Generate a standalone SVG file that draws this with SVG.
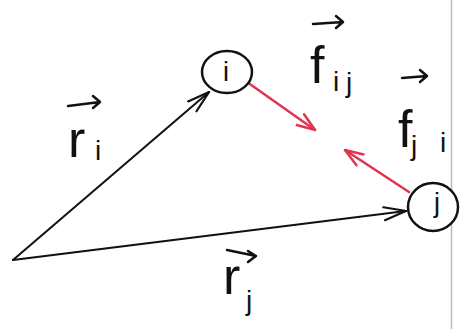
<svg xmlns="http://www.w3.org/2000/svg" width="467" height="329" viewBox="0 0 467 329">
  <style>
    .edge { fill: none; stroke: #111; stroke-width: 2; stroke-linecap: round; }
    .force { fill: none; stroke: #e2334f; stroke-width: 2.5; stroke-linecap: round; }
    .node { fill: #fff; stroke: #111; stroke-width: 2.5; }
    .lbl { font-family: "Liberation Sans", Arial, sans-serif; fill: #111; }
    .big { font-size: 52px; }
    .sub { font-size: 28px; }
    .nlbl { font-family: "Liberation Sans", Arial, sans-serif; font-size: 27px; fill: #111; text-anchor: middle; }
    .vec { fill: none; stroke: #111; stroke-width: 2.5; stroke-linecap: round; stroke-linejoin: round; }
  </style>
  <defs>
    <marker id="headBlack" viewBox="0 0 24 16" refX="23" refY="8" markerWidth="24" markerHeight="16" markerUnits="userSpaceOnUse" orient="auto">
      <path d="M1,1.5 L23,8 L1,14.5" fill="none" stroke="#111" stroke-width="2.2" stroke-linecap="round"/>
    </marker>
    <marker id="headRed" viewBox="0 0 20 16" refX="19" refY="8" markerWidth="20" markerHeight="16" markerUnits="userSpaceOnUse" orient="auto">
      <path d="M1,1.5 L19,8 L1,14.5" fill="none" stroke="#e2334f" stroke-width="2.5" stroke-linecap="round"/>
    </marker>
  </defs>
  <rect width="467" height="329" fill="#fff"/>
  <line x1="451.5" y1="0" x2="451.5" y2="329" stroke="#bdbdbd" stroke-width="1.5"/>

  <g id="connectors">
    <path class="edge" d="M13,260 L209,92" marker-end="url(#headBlack)"/>
    <path class="edge" d="M13,260 L406,211" marker-end="url(#headBlack)"/>
    <path class="force" d="M247,82 L315,130" marker-end="url(#headRed)"/>
    <path class="force" d="M409,192 L345,150" marker-end="url(#headRed)"/>
  </g>

  <g id="node-i">
    <ellipse class="node" cx="227" cy="72" rx="25" ry="21"/>
    <text class="nlbl" x="226" y="81">i</text>
  </g>
  <g id="node-j">
    <ellipse class="node" cx="433" cy="207" rx="25" ry="24"/>
    <text class="nlbl" x="437" y="212">j</text>
  </g>

  <g id="label-ri">
    <path class="vec" d="M68,106 L100,102 M93,96 L100,102 L93,108"/>
    <text class="lbl big" x="68" y="157">r</text>
    <text class="lbl sub" x="95" y="160">i</text>
  </g>
  <g id="label-rj">
    <path class="vec" d="M227,250 L256,256 M248,251 L256,256 L248,262"/>
    <text class="lbl big" x="223" y="294">r</text>
    <text class="lbl sub" x="246" y="310">j</text>
  </g>
  <g id="label-fij">
    <path class="vec" d="M313,24 L343,22 M336,16 L343,22 L336,28"/>
    <text class="lbl big" x="310" y="83">f</text>
    <text class="lbl sub" y="91"><tspan x="333">i</tspan><tspan x="346" y="92">j</tspan></text>
  </g>
  <g id="label-fji">
    <path class="vec" d="M402,78 L427,76 M420,70 L427,76 L420,82"/>
    <text class="lbl big" x="398" y="147">f</text>
    <text class="lbl sub" y="155"><tspan x="411">j</tspan><tspan x="440" y="152">i</tspan></text>
  </g>
</svg>
